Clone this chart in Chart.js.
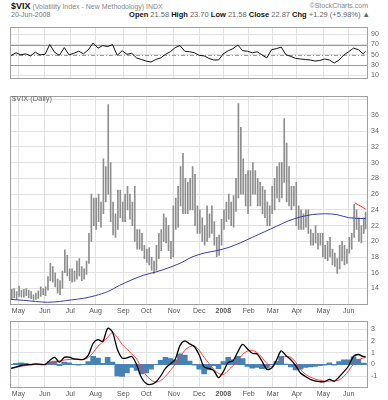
<!DOCTYPE html>
<html>
<head>
<meta charset="utf-8">
<script src="https://cdn.jsdelivr.net/npm/chart.js@4.4.1/dist/chart.umd.min.js"></script>
<style>
  body { margin: 0; background: #fff; }
  #wrap { position: relative; width: 388px; height: 400px; overflow: hidden; font-family: "Liberation Sans", Arial, sans-serif; }
  .pane { position: absolute; left: 0; width: 388px; }
  .txt { position: absolute; white-space: nowrap; color: #888; font-size: 7px; }
  .txt b { color: #111; }
</style>
</head>
<body>
<div id="wrap">
  <div class="txt" style="left:11px;top:1px"><b style="font-size:9px">$VIX</b> (Volatility Index - New Methodology) INDX</div>
  <div class="txt" style="right:20px;top:2px">©StockCharts.com</div>
  <div class="txt" style="left:11px;top:11px;color:#777">20-Jun-2008</div>
  <div class="txt" style="right:18px;top:10px;font-size:7.5px;color:#666"><b>Open</b> 21.58 <b>High</b> 23.70 <b>Low</b> 21.58 <b>Close</b> 22.87 <b>Chg</b> +1.29 (+5.98%) ▲</div>
  <div class="pane" style="top:20px;height:66px"><canvas id="rsi"></canvas></div>
  <div class="pane" style="top:89px;height:226px"><canvas id="price"></canvas></div>
  <div class="txt" style="left:12px;top:94px;color:#666;font-size:7.5px">$VIX (Daily)</div>
  <div class="pane" style="top:314px;height:86px"><canvas id="macd"></canvas></div>
</div>
<script>
// x positions are trading-day numbers, 0 = 23-Apr-2007, 294 = 20-Jun-2008
const monthDays   = [6, 28, 49, 70, 93, 112, 135, 156, 176, 197, 217, 237, 259, 280];
const monthLabels = ['May', 'Jun', 'Jul', 'Aug', 'Sep', 'Oct', 'Nov', 'Dec', '2008', 'Feb', 'Mar', 'Apr', 'May', 'Jun'];

// price bars, one bar for every two trading days
const highs = [
  13.9, 14.0, 13.6,
  14.3, 13.8, 13.9, 14.0, 13.8, 13.6, 13.2, 13.4, 13.7, 14.2, 14.0,
  14.2, 15.5, 17.2, 16.8, 16.0, 15.2, 15.0, 16.2, 18.9, 18.2, 16.5,
  16.5, 16.2, 17.5, 17.8, 16.8, 16.5, 17.5, 21.0, 26.0, 25.5,
  25.5, 26.0, 25.0, 30.5, 29.5, 37.4, 30.0, 25.0, 23.5, 26.5, 26.5, 25.0,
  26.0, 27.0, 26.0, 25.0, 27.0, 21.5, 21.5, 21.0, 19.5,
  19.0, 19.2, 18.0, 17.5, 19.5, 21.0, 21.5, 23.5, 23.0, 22.0, 20.0, 24.5,
  25.5, 27.0, 29.5, 31.2, 28.0, 27.5, 28.0, 29.5, 28.5, 24.5,
  24.0, 23.0, 22.0, 24.5, 23.5, 24.5, 22.5, 20.5, 20.8, 22.8,
  24.0, 25.0, 26.0, 25.0, 25.8, 28.0, 37.5, 34.5, 30.5, 28.5, 29.0,
  29.0, 30.0, 29.0, 28.0, 27.5, 27.0, 26.5, 25.0, 24.5, 27.0,
  28.0, 29.5, 30.0, 30.0, 35.6, 32.5, 29.5, 27.0, 27.0, 27.5,
  24.5, 24.0, 23.5, 24.0, 24.0, 21.5, 21.0, 22.0, 21.0, 21.0, 21.0,
  19.5, 20.0, 20.5, 19.0, 18.5, 17.8, 19.5, 20.0, 19.5, 19.0,
  20.5, 21.0, 24.7, 24.0, 23.0, 22.0, 23.0, 23.7
];
const lows = [
  12.6, 12.8, 12.6,
  13.0, 12.9, 12.9, 13.1, 12.8, 12.7, 12.5, 12.6, 12.7, 13.0, 13.2,
  13.1, 13.8, 15.0, 14.8, 14.2, 13.4, 13.2, 14.0, 16.0, 15.6, 15.0,
  14.8, 14.9, 15.2, 15.6, 15.0, 15.2, 15.8, 17.2, 20.0, 22.0,
  21.5, 22.5, 21.8, 23.5, 25.0, 26.0, 22.5, 20.8, 20.5, 21.5, 23.0, 22.5,
  22.5, 24.0, 22.8, 22.0, 20.0, 19.0, 19.0, 18.8, 17.8,
  17.3, 17.0, 16.3, 15.9, 16.3, 17.8, 18.8, 20.0, 19.8, 18.8, 17.8, 18.0,
  21.5, 21.8, 24.5, 23.5, 23.5, 23.5, 24.0, 24.0, 22.0, 21.0,
  21.0, 20.0, 19.5, 20.0, 20.5, 21.0, 19.5, 18.0, 18.2, 19.5,
  21.5, 22.5, 22.8, 22.0, 21.8, 23.8, 25.5, 26.0, 26.0, 24.5, 23.5,
  24.5, 26.0, 26.0, 24.5, 24.5, 23.5, 23.0, 22.0, 22.0, 23.5,
  24.0, 25.5, 25.0, 25.5, 27.5, 25.0, 24.5, 24.0, 24.5, 22.0,
  21.5, 21.5, 21.5, 21.8, 21.0, 19.5, 19.5, 19.8, 19.0, 19.5, 18.0,
  17.8, 17.5, 18.0, 17.0, 16.8, 15.9, 16.5, 17.5, 17.0, 17.2,
  18.5, 19.0, 20.5, 21.5, 20.0, 19.8, 21.0, 21.58
];

// moving average (blue)
const maDays = [0, 10, 20, 30, 40, 50, 60, 70, 80, 90, 100, 110, 120, 130, 140, 150,
  160, 170, 180, 190, 200, 210, 220, 230, 240, 250, 260, 270, 280, 290, 294];
const maValues = [12.6, 12.5, 12.35, 12.25, 12.35, 12.55, 12.75, 13.1, 13.6, 14.4,
  15.1, 15.7, 16.1, 16.6, 17.2, 18.0, 18.5, 18.8, 19.2, 19.8,
  20.5, 21.2, 21.9, 22.6, 23.1, 23.4, 23.5, 23.4, 23.0, 22.9, 22.9];

// short red line at the right
const redDays = [285, 294];
const redValues = [24.9, 24.1];

// indicator samples, every four trading days
const sampleDays = Array.from({ length: 75 }, (_, i) => Math.min(i * 4, 294));
const rsiValues = [49, 54, 50, 52, 48, 55, 50, 51, 70, 55, 49, 64, 50, 53, 57, 52, 60, 73, 63, 68,
  66, 70, 49, 58, 51, 53, 44, 41, 38, 36, 41, 44, 51, 56, 64, 68, 57, 56, 54, 49,
  48, 43, 40, 40, 52, 58, 62, 69, 58, 57, 54, 56, 50, 44, 60, 62, 65, 50, 47, 43,
  42, 41, 40, 38, 39, 42, 40, 34, 40, 50, 56, 63, 60, 52, 57];
const macdValues = [-0.33, -0.2, -0.08, -0.02, 0.0, 0.05, 0.02, 0.0, 0.35, 0.6,
  0.2, 0.6, 0.62, 0.48, 0.43, 0.43, 0.8, 1.8, 2.1, 1.96,
  3.05, 2.75, 1.32, 0.56, 0.56, 0.68, 0.0, -1.1, -1.6, -1.68,
  -1.48, -0.97, -0.33, 0.05, 0.43, 1.6, 2.0, 1.75, 1.5, 0.8,
  -0.2, -0.33, -0.5, -1.1, -0.59, 0.18, 0.31, 1.07, 1.7, 1.32,
  0.95, 0.9, 0.3, -0.4, -0.3, 0.35, 1.15, 0.75, 0.4, -0.1,
  -0.71, -1.0, -1.25, -1.38, -1.45, -1.45, -1.25, -1.4, -1.05, -0.6,
  -0.1, 0.7, 0.85, 0.68, 0.68];
const signalValues = [-0.33, -0.25, -0.15, -0.08, -0.03, 0.0, 0.0, 0.02, 0.1, 0.2,
  0.3, 0.38, 0.43, 0.45, 0.45, 0.43, 0.6, 1.0, 1.55, 1.9,
  2.3, 2.7, 2.3, 1.7, 1.3, 0.9, 0.5, -0.3, -0.9, -1.3,
  -1.48, -1.35, -1.0, -0.5, 0.0, 0.6, 1.2, 1.5, 1.58, 1.2,
  0.6, 0.1, -0.4, -0.75, -0.84, -0.5, -0.1, 0.35, 0.85, 1.15,
  1.2, 1.0, 0.6, 0.1, -0.15, 0.1, 0.45, 0.7, 0.6, 0.2,
  -0.4, -0.8, -1.05, -1.22, -1.32, -1.4, -1.4, -1.38, -1.3, -1.0,
  -0.5, 0.05, 0.4, 0.56, 0.6];
const histValues = [0.0, 0.1, 0.15, 0.1, 0.05, 0.05, 0.02, 0.0, 0.25, 0.3,
  -0.1, 0.2, 0.15, 0.0, -0.05, 0.0, 0.25, 0.7, 0.55, 0.1,
  0.6, 0.2, -0.95, -1.0, -0.7, -0.25, -0.5, -0.8, -0.7, -0.4,
  0.0, 0.35, 0.6, 0.5, 0.4, 0.9, 0.8, 0.3, -0.05, -0.4,
  -0.8, -0.45, -0.1, -0.35, 0.25, 0.6, 0.4, 0.7, 0.5, -0.15,
  -0.3, -0.25, -0.35, -0.3, 0.0, 0.25, 0.7, 0.05, -0.2, -0.45,
  -0.4, -0.25, -0.2, -0.15, -0.1, -0.05, 0.15, -0.02, 0.25, 0.4,
  0.4, 0.65, 0.45, 0.12, 0.08];

const FONT = '"Liberation Sans", Arial, sans-serif';
const gridColor = '#e2e2e2';

const panelBorder = {
  id: 'panelBorder',
  afterDraw(chart) {
    const { ctx, chartArea: a } = chart;
    ctx.save();
    ctx.strokeStyle = '#a0a0a0';
    ctx.lineWidth = 1;
    ctx.strokeRect(Math.round(a.left) + 0.5, Math.round(a.top) + 0.5,
      Math.round(a.right - a.left) - 1, Math.round(a.bottom - a.top) - 1);
    ctx.restore();
  }
};

// RSI 70 / 50 / 30 lines
const rsiLevels = {
  id: 'rsiLevels',
  beforeDatasetsDraw(chart) {
    const { ctx, chartArea: a, scales } = chart;
    ctx.save();
    ctx.strokeStyle = '#9a9a9a';
    ctx.lineWidth = 1;
    [70, 50, 30].forEach(v => {
      const y = Math.round(scales.y.getPixelForValue(v)) + 0.5;
      ctx.setLineDash(v === 50 ? [4, 2, 1, 2] : []);
      ctx.beginPath();
      ctx.moveTo(a.left, y);
      ctx.lineTo(a.right, y);
      ctx.stroke();
    });
    ctx.restore();
  }
};

function monthAxis(showLabels, height) {
  return {
    type: 'linear',
    min: -1,
    max: 296,
    offset: false,
    afterBuildTicks: s => { s.ticks = monthDays.map(v => ({ value: v })); },
    afterFit: s => { s.height = height; },
    grid: { color: gridColor, drawTicks: false, offset: false },
    border: { display: false },
    ticks: {
      display: showLabels,
      autoSkip: false,
      maxRotation: 0,
      padding: 2,
      color: '#555',
      font: ctx => ({ size: 7, family: FONT, weight: monthLabels[ctx.index] === '2008' ? 'bold' : 'normal' }),
      callback: (v, i) => monthLabels[i]
    }
  };
}

function rightAxis(min, max, tickValues, opts = {}) {
  return {
    position: 'right',
    min,
    max,
    afterBuildTicks: s => { s.ticks = tickValues.map(v => ({ value: v })); },
    afterFit: s => { s.width = 20; },
    grid: { color: opts.gridColor || gridColor, drawTicks: false },
    border: { display: false },
    ticks: {
      color: '#666',
      padding: 3,
      font: { size: 7, family: FONT },
      callback: opts.callback || (v => v)
    }
  };
}

const common = {
  responsive: true,
  maintainAspectRatio: false,
  animation: false,
  layout: { padding: { left: 10, right: 0, top: 0, bottom: 0 } },
  plugins: { legend: { display: false }, tooltip: { enabled: false } }
};

new Chart(document.getElementById('rsi'), {
  type: 'line',
  data: {
    datasets: [{
      data: sampleDays.map((d, i) => ({ x: d, y: rsiValues[i] })),
      borderColor: '#111',
      borderWidth: 1,
      pointRadius: 0,
      tension: 0
    }]
  },
  plugins: [rsiLevels, panelBorder],
  options: {
    ...common,
    scales: {
      x: monthAxis(false, 0),
      y: rightAxis(3.5, 103.6, [10, 30, 50, 70, 90])
    }
  }
});

new Chart(document.getElementById('price'), {
  type: 'bar',
  data: {
    datasets: [
      {
        type: 'line',
        data: maDays.map((d, i) => ({ x: d, y: maValues[i] })),
        borderColor: '#3b3ba6',
        borderWidth: 1,
        pointRadius: 0,
        tension: 0.3,
        order: 0
      },
      {
        type: 'line',
        data: redDays.map((d, i) => ({ x: d, y: redValues[i] })),
        borderColor: '#ff2a2a',
        borderWidth: 1,
        pointRadius: 0,
        order: 0
      },
      {
        data: highs.map((h, i) => ({ x: Math.min(i * 2 + 0.5, 294), y: [lows[i], h] })),
        backgroundColor: '#8e8e8e',
        barThickness: 1,
        order: 1
      }
    ]
  },
  plugins: [panelBorder],
  options: {
    ...common,
    scales: {
      x: monthAxis(true, 10),
      y: rightAxis(11.9, 38.45, [14, 16, 18, 20, 22, 24, 26, 28, 30, 32, 34, 36, 38],
        { callback: v => (v === 38 ? '' : v) })
    }
  }
});

new Chart(document.getElementById('macd'), {
  type: 'bar',
  data: {
    datasets: [
      {
        type: 'line',
        data: sampleDays.map((d, i) => ({ x: d, y: macdValues[i] })),
        borderColor: '#000',
        borderWidth: 1.3,
        pointRadius: 0,
        tension: 0.3,
        order: 0
      },
      {
        type: 'line',
        data: sampleDays.map((d, i) => ({ x: d, y: signalValues[i] })),
        borderColor: '#ff3b3b',
        borderWidth: 1,
        pointRadius: 0,
        tension: 0.3,
        order: 1
      },
      {
        data: sampleDays.map((d, i) => ({ x: d, y: histValues[i] })),
        backgroundColor: '#4682b4',
        barThickness: 5,
        order: 2
      }
    ]
  },
  plugins: [panelBorder],
  options: {
    ...common,
    scales: {
      x: monthAxis(true, 12),
      y: {
        ...rightAxis(-1.98, 3.66, [-1, 0, 1, 2, 3]),
        grid: { color: ctx => (ctx.tick && ctx.tick.value === 0 ? '#4f86bd' : gridColor), drawTicks: false }
      }
    }
  }
});
</script>
</body>
</html>
